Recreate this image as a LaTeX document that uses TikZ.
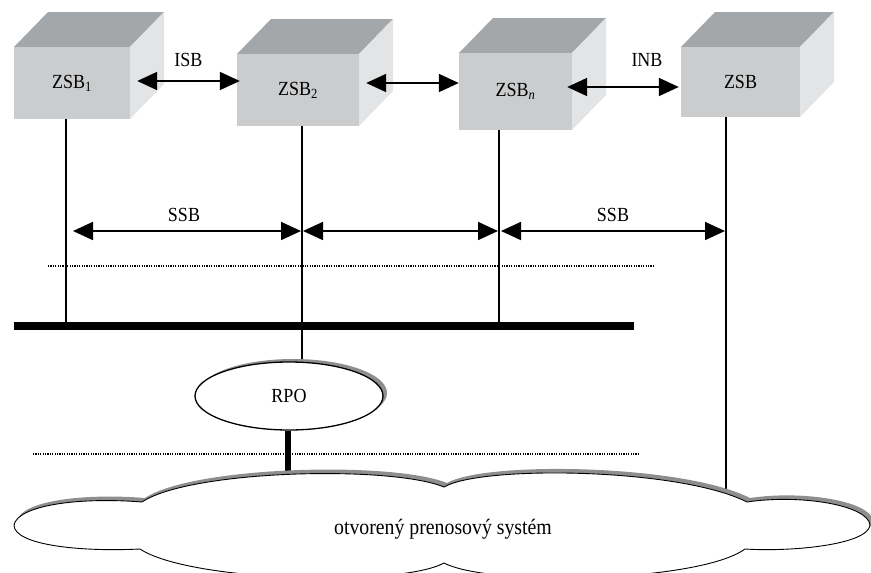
\documentclass[tikz,border=0pt]{standalone}
\usepackage{fontspec}
\setmainfont{Liberation Serif}[FakeStretch=0.9]
\usetikzlibrary{arrows.meta,shapes.geometric,calc,shadows}
\pgfdeclarelayer{bg}
\pgfsetlayers{bg,main}
\definecolor{cubefront}{HTML}{CBCCCE}
\definecolor{cubetop}{HTML}{A4A7A9}
\definecolor{cubeside}{HTML}{E3E4E6}
\definecolor{shadowgrey}{HTML}{8E8E8E}
\newcommand\zcube[6]{%
  \fill[cubetop] (#2,#3) -- ++(34,-35) -- (#4+34,#3-35) -- (#4,#3) -- cycle;
  \fill[cubeside] (#4,#3) -- ++(34,-35) -- (#4+34,#5-35) -- (#4,#5) -- cycle;
  \node[front, minimum width={(#4)-(#2)}, minimum height={(#5)-(#3)}]
    (#1) at ({((#2)+(#4))/2},{((#3)+(#5))/2}) {#6};
}
\newcommand\cloudline[1]{%
  \path[#1] (14,525) .. controls (18,505) and (80,497) .. (142,502)
    .. controls (190,470) and (390,465) .. (444,487)
    .. controls (482,465) and (680,468) .. (747,502)
    .. controls (800,494) and (868,505) .. (870,525)
    .. controls (868,545) and (790,552) .. (745,549)
    .. controls (700,582) and (490,587) .. (444,563)
    .. controls (400,587) and (190,582) .. (140,549)
    .. controls (80,552) and (14,545) .. (14,525) -- cycle;
}
\begin{document}
\begin{tikzpicture}[x=1pt,y=-1pt,
  lbl/.style={font=\fontsize{20}{23}\selectfont},
  front/.style={fill=cubefront, inner sep=0pt, lbl},
  vline/.style={line width=1.8pt},
  bigtri/.tip={Triangle[length=20pt,width=18pt]},
  dbl/.style={line width=1.8pt, bigtri-bigtri},
  dots/.style={line width=1.4pt, dash pattern=on 1.2pt off 1.2pt},
  rpostyle/.style={ellipse, draw, line width=1.3pt, fill=white,
    minimum width=188pt, minimum height=68pt, inner sep=0pt, lbl,
    drop shadow={shadow xshift=4pt, shadow yshift=3pt, fill=shadowgrey, opacity=1}},
  ]
\useasboundingbox (0,0) rectangle (871,573);
\clip (0,0) rectangle (871,573);

% cubes
\zcube{c1}{14}{47}{130}{119}{ZSB\textsubscript{1}}
\zcube{c2}{237}{54}{359}{126}{ZSB\textsubscript{2}}
\zcube{cn}{459}{53}{572}{130}{ZSB\textsubscript{\itshape n}}
\zcube{c4}{681}{47}{800}{117}{ZSB}

% bus / line anchor coordinates
\coordinate (b1) at (66,326);
\coordinate (b2) at (302,326);
\coordinate (b3) at (499,326);
\coordinate (b4) at (726,492);
\coordinate (busL) at (14,326);
\coordinate (busR) at (634,326);
\coordinate (cloudtop) at (289,480);

% RPO
\node[rpostyle] (rpo) at (289,396) {RPO};

% cloud
\cloudline{fill=shadowgrey, shift={(3,-4)}}
\cloudline{fill=white, draw=black, line width=0.9pt}
\node[font=\fontsize{22}{25}\selectfont] (ops) at (443,529) {otvorený prenosový systém};

\begin{pgfonlayer}{bg}
  \draw[dots] (48,266) -- (655,266);
  \draw[dots] (33,454) -- (639,454);
  \draw[vline] (b1 |- c1.south) -- (b1);
  \draw[vline] (b2 |- c2.south) -- (b2 |- rpo.center);
  \draw[vline] (b3 |- cn.south) -- (b3);
  \draw[vline] (b4 |- c4.south) -- (b4);
  \draw[line width=8pt] (busL) -- (busR);
  \draw[line width=6pt] (rpo.south -| 288,0) -- (cloudtop -| 288,0);
\end{pgfonlayer}

% top arrows
\draw[dbl] ($(c1.east)+(7,-2)$) -- ($(c2.west)+(3,-9)$)
  node[midway, yshift=21pt, lbl] {ISB};
\draw[dbl] ($(c2.east)+(7,-7)$) -- ($(cn.west)+(0,-8.5)$);
\draw[dbl] ($(cn.east)+(-5,-4.5)$) -- ($(c4.west)+(-2,5)$)
  node[midway, xshift=24pt, yshift=27pt, lbl] {INB};

% SSB arrows
\draw[dbl] ($(b1)+(7,-95)$) -- ($(b2)+(-1,-95)$)
  node[midway, xshift=-3pt, yshift=16pt, lbl] {SSB};
\draw[dbl] ($(b2)+(1,-95)$) -- ($(b3)+(-1,-95)$);
\draw[dbl] ($(b3)+(2,-95)$) -- ($(b4)+(-1,-261)$)
  node[midway, yshift=16pt, lbl] {SSB};
\end{tikzpicture}
\end{document}
